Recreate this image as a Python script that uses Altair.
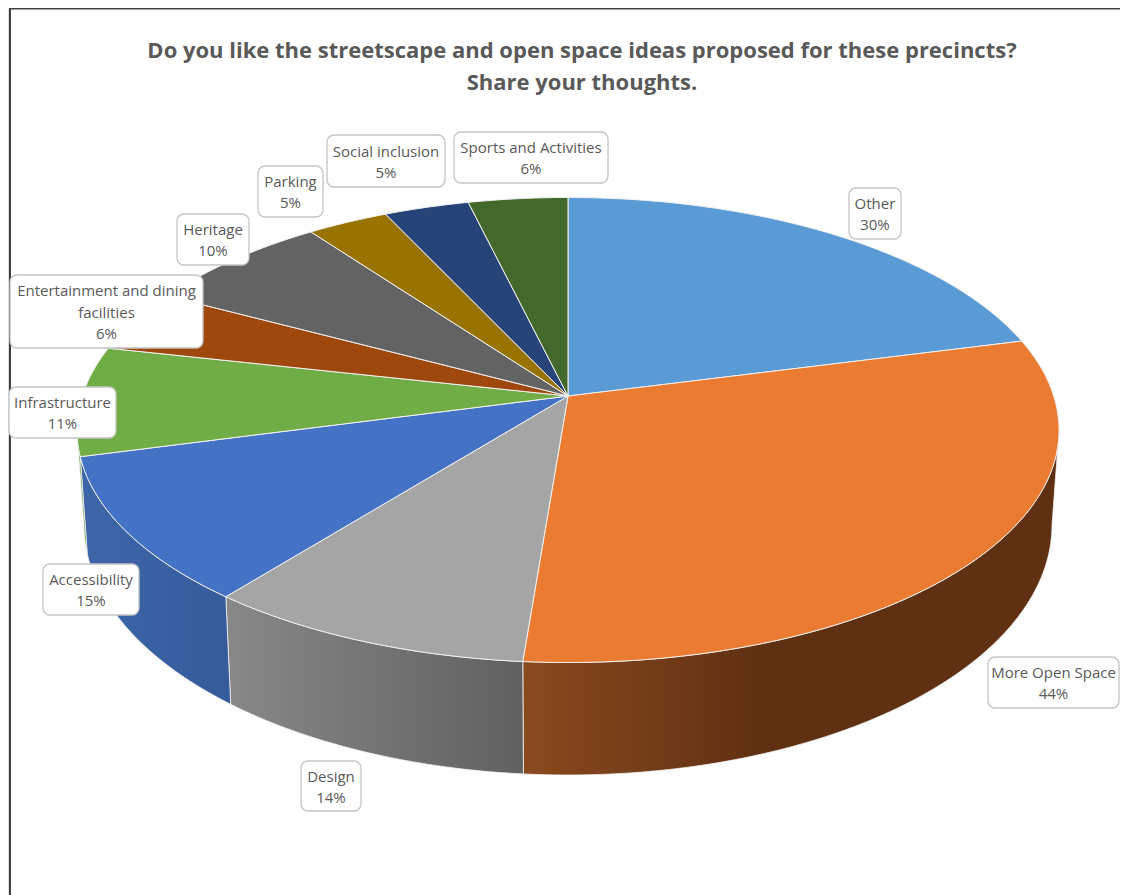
import math
import altair as alt
import pandas as pd

TITLE = ["Do you like the streetscape and open space ideas proposed for these precincts?",
         "Share your thoughts."]

categories = ["Other", "More Open Space", "Design", "Accessibility", "Infrastructure",
              "Entertainment and dining facilities", "Heritage", "Parking",
              "Social inclusion", "Sports and Activities"]
shares = [30.6, 44.2, 13.8, 14.8, 11.1, 6.3, 10.4, 4.5, 4.7, 5.5]
percent_labels = ["30%", "44%", "14%", "15%", "11%", "6%", "10%", "5%", "5%", "6%"]
top_colors = ["#5B9BD5", "#EB7B31", "#A5A5A5", "#4472C4", "#70AD47",
              "#9E480E", "#636363", "#997300", "#264478", "#43682B"]

# Side wall gradients: (left colour, offset, right colour)
side_styles = {
    "More Open Space": ("#8A4A1E", 0.44, "#5F3012"),
    "Design": ("#888888", 1.0, "#606060"),
    "Accessibility": ("#3D66A9", 1.0, "#365B9B"),
    "Infrastructure": ("#5F9040", 1.0, "#5F9040"),
}

# Label boxes (left, right, top, bottom) in picture pixels
label_lines = [["Other"], ["More Open Space"], ["Design"], ["Accessibility"], ["Infrastructure"],
               ["Entertainment and dining", "facilities"], ["Heritage"], ["Parking"],
               ["Social inclusion"], ["Sports and Activities"]]
box_left = [849, 988, 301, 43, 9, 10, 177, 258, 327, 454]
box_right = [901, 1119, 361, 139, 116, 203, 249, 323, 445, 608]
box_top = [188, 657, 761, 564, 387, 275, 214, 166, 135, 132]
box_bottom = [239, 708, 811, 615, 438, 348, 265, 217, 187, 183]

CX, CY, RX, RY = 568, 430, 491, 232.5
BCY, BRX, BRY = 525, 484, 250
TILT = 0.146
W, H = 1112, 887


def project(theta_deg):
    """Pie angle (clockwise from 12 o'clock) to the unit ellipse, with perspective."""
    th = math.radians(theta_deg)
    u, v = math.sin(th), math.cos(th)
    den = 1 + TILT * v
    return u * math.sqrt(1 - TILT ** 2) / den, (v + TILT) / den


def top_xy(theta):
    px, py = project(theta)
    return CX + RX * px, CY - RY * py


def bottom_xy(theta):
    px, py = project(theta)
    return CX + BRX * px, BCY - BRY * py


xs = alt.Scale(domain=[8, 8 + W], nice=False, zero=False)
ys = alt.Scale(domain=[8 + H, 8], nice=False, zero=False)
X = alt.X("x:Q", scale=xs, axis=None)
Y = alt.Y("y:Q", scale=ys, axis=None)


def polygon(points):
    closed = list(points) + [points[0]]
    return pd.DataFrame({"x": [p[0] for p in closed], "y": [p[1] for p in closed],
                         "i": list(range(len(closed)))})


def gradient(left, off, right):
    stops = [{"offset": 0, "color": left}, {"offset": off, "color": right}]
    if off < 1:
        stops.append({"offset": 1, "color": right})
    return {"gradient": "linear", "x1": 0, "x2": 1, "y1": 0, "y2": 0, "stops": stops}


total = sum(shares)
edges = [0.0]
for s in shares:
    edges.append(edges[-1] + s / total * 360)


def thetas(a, b):
    n = max(2, int((b - a) * 2))
    return [a + (b - a) * k / n for k in range(n + 1)]


layers = []

# Frame
frame = pd.DataFrame({"x": [1120, 10, 10], "y": [8.5, 8.5, 895], "i": [0, 1, 2]})
layers.append(alt.Chart(frame).mark_line(color="#404040", strokeWidth=2).encode(x=X, y=Y, order="i:Q"))

# Side walls
for k, name in enumerate(categories):
    front = [t for t in thetas(edges[k], edges[k + 1]) if project(t)[1] <= 0]
    if len(front) < 2 or name not in side_styles:
        continue
    pts = [top_xy(t) for t in front] + [bottom_xy(t) for t in reversed(front)]
    layers.append(alt.Chart(polygon(pts)).mark_line(
        fill=gradient(*side_styles[name]), stroke="#f4f4f4", strokeWidth=0.8
    ).encode(x=X, y=Y, order="i:Q"))

# Top face
apex = (CX, CY - RY * TILT)
for k, name in enumerate(categories):
    pts = [apex] + [top_xy(t) for t in thetas(edges[k], edges[k + 1])]
    layers.append(alt.Chart(polygon(pts)).mark_line(
        fill=top_colors[k], stroke="#f2f2f2", strokeWidth=1
    ).encode(x=X, y=Y, order="i:Q"))

# Label boxes
boxes = pd.DataFrame({"x": box_left, "x2": box_right, "y": box_top, "y2": box_bottom})
layers.append(alt.Chart(boxes).mark_rect(
    fill="white", stroke="#c4c4c4", strokeWidth=1.3, cornerRadius=7
).encode(x=X, x2="x2:Q", y=Y, y2="y2:Q"))

# Label text
rows = []
for k, lines in enumerate(label_lines):
    all_lines = lines + [percent_labels[k]]
    mid = (box_top[k] + box_bottom[k]) / 2 + 1.2
    cx = (box_left[k] + box_right[k]) / 2
    for j, line in enumerate(all_lines):
        rows.append({"x": cx, "y": mid + (j - (len(all_lines) - 1) / 2) * 21.3, "t": line})
layers.append(alt.Chart(pd.DataFrame(rows)).mark_text(
    font="Open Sans", fontSize=15, color="#595959", baseline="middle", align="center"
).encode(x=X, y=Y, text="t:N"))

chart = alt.layer(*layers).properties(
    width=W, height=H,
    padding=0,
    autosize=alt.AutoSizeParams(type="none"),
    title=alt.TitleParams(text=TITLE, anchor="middle", frame="group", font="Open Sans",
                          fontSize=22, fontWeight="bold", color="#595959", lineHeight=32,
                          baseline="top", offset=0, dx=18, dy=90),
).configure_view(stroke=None).configure(background="white")

chart.save("out.html", embed_options={"renderer": "svg", "actions": False})
